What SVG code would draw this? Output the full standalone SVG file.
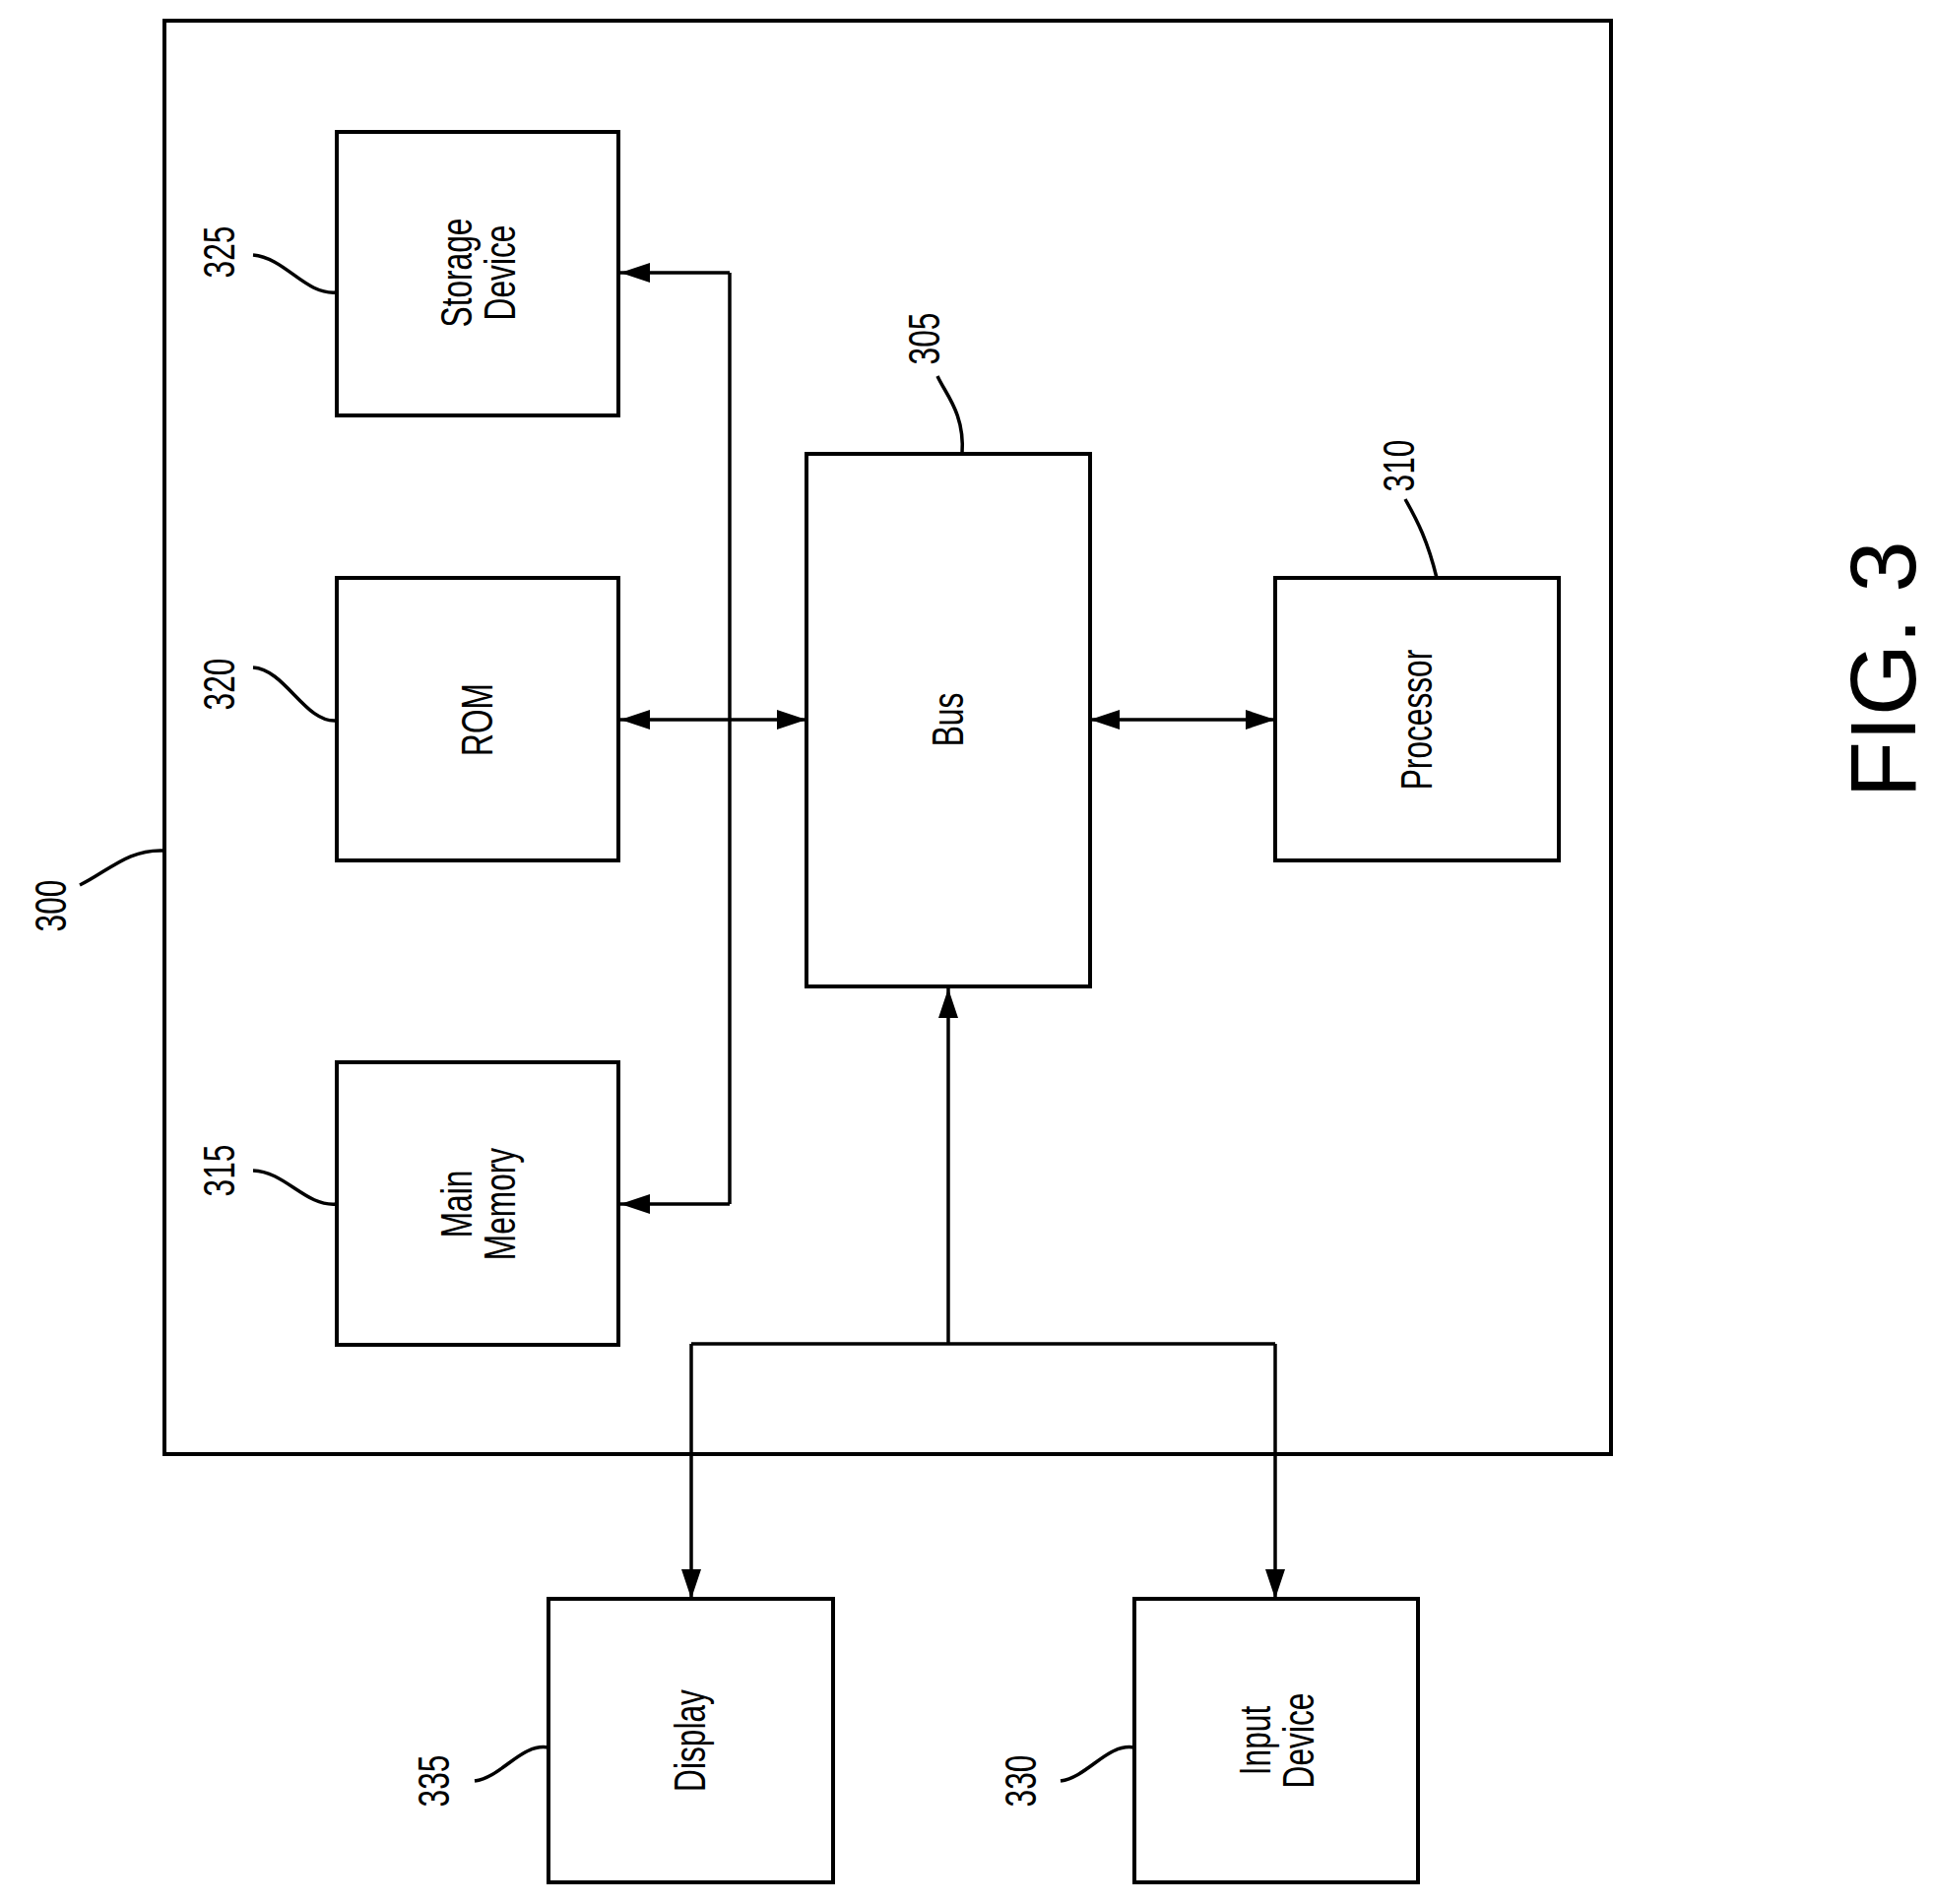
<svg xmlns="http://www.w3.org/2000/svg" width="1963" height="1934" viewBox="0 0 1963 1934">
<style>
.b{fill:none;stroke:#000;stroke-width:4}
.l{fill:none;stroke:#000;stroke-width:3.5}
.t{font-family:"Liberation Sans",Arial,sans-serif;font-size:44px;text-anchor:middle;dominant-baseline:central;fill:#000}
.n{font-family:"Liberation Sans",Arial,sans-serif;font-size:44px;text-anchor:middle;dominant-baseline:central;fill:#000}
</style>
<defs>
<marker id="a" viewBox="0 0 30 20" refX="30" refY="10" markerWidth="30" markerHeight="20" orient="auto-start-reverse" markerUnits="userSpaceOnUse"><path d="M0,0 L30,10 L0,20 z"/></marker>
</defs>
<rect width="1963" height="1934" fill="#fff"/>
<g id="n300"><rect class="b" x="167" y="21" width="1469" height="1456"/>
<text class="n" transform="translate(52,920) rotate(-90) scale(0.72,1)">300</text>
<path class="l" d="M81,899 C110,885 130,862 167,864"/></g>
<g id="n325"><rect class="b" x="342" y="134" width="286" height="288"/>
<text class="t" transform="translate(485,277) rotate(-90) scale(0.72,1)"><tspan x="0" dy="-22">Storage</tspan><tspan x="0" dy="44">Device</tspan></text>
<text class="n" transform="translate(223,256) rotate(-90) scale(0.72,1)">325</text>
<path class="l" d="M257,259 C290,262 310,300 342,297"/></g>
<g id="n320"><rect class="b" x="342" y="587" width="286" height="287"/>
<text class="t" transform="translate(485,731) rotate(-90) scale(0.72,1)">ROM</text>
<text class="n" transform="translate(223,695) rotate(-90) scale(0.72,1)">320</text>
<path class="l" d="M257,678 C290,680 310,735 342,732"/></g>
<g id="n315"><rect class="b" x="342" y="1079" width="286" height="287"/>
<text class="t" transform="translate(485,1223) rotate(-90) scale(0.72,1)"><tspan x="0" dy="-22">Main</tspan><tspan x="0" dy="44">Memory</tspan></text>
<text class="n" transform="translate(223,1189) rotate(-90) scale(0.72,1)">315</text>
<path class="l" d="M257,1189 C290,1190 310,1226 342,1223"/></g>
<g id="n305"><rect class="b" x="819" y="461" width="288" height="541"/>
<text class="t" transform="translate(963,731) rotate(-90) scale(0.72,1)">Bus</text>
<text class="n" transform="translate(939,344) rotate(-90) scale(0.72,1)">305</text>
<path class="l" d="M952,382 C960,400 980,420 977,461"/></g>
<g id="n310"><rect class="b" x="1295" y="587" width="288" height="287"/>
<text class="t" transform="translate(1439,731) rotate(-90) scale(0.72,1)">Processor</text>
<text class="n" transform="translate(1421,473) rotate(-90) scale(0.72,1)">310</text>
<path class="l" d="M1427,507 C1440,530 1450,550 1459,587"/></g>
<g id="n335"><rect class="b" x="557" y="1624" width="289" height="288"/>
<text class="t" transform="translate(701,1768) rotate(-90) scale(0.72,1)">Display</text>
<text class="n" transform="translate(441,1809) rotate(-90) scale(0.72,1)">335</text>
<path class="l" d="M482,1809 C510,1805 530,1770 557,1775"/></g>
<g id="n330"><rect class="b" x="1152" y="1624" width="288" height="288"/>
<text class="t" transform="translate(1296,1768) rotate(-90) scale(0.72,1)"><tspan x="0" dy="-22">Input</tspan><tspan x="0" dy="44">Device</tspan></text>
<text class="n" transform="translate(1037,1809) rotate(-90) scale(0.72,1)">330</text>
<path class="l" d="M1077,1809 C1105,1805 1125,1770 1152,1775"/></g>
<text id="fig" x="0" y="0" font-family="Liberation Sans,Arial,sans-serif" font-size="94" text-anchor="middle" dominant-baseline="central" transform="translate(1912,680) rotate(-90)">FIG. 3</text>
<g id="connectors">
<path class="l" d="M741,277 V1223" />
<line class="l" x1="741" y1="277" x2="630" y2="277" marker-end="url(#a)"/>
<line class="l" x1="741" y1="1223" x2="630" y2="1223" marker-end="url(#a)"/>
<line class="l" x1="630" y1="731" x2="819" y2="731" marker-start="url(#a)" marker-end="url(#a)"/>
<line class="l" x1="1107" y1="731" x2="1295" y2="731" marker-start="url(#a)" marker-end="url(#a)"/>
<line class="l" x1="963" y1="1365" x2="963" y2="1004" marker-end="url(#a)"/>
<path class="l" d="M702,1365 H1295"/>
<line class="l" x1="702" y1="1365" x2="702" y2="1624" marker-end="url(#a)"/>
<line class="l" x1="1295" y1="1365" x2="1295" y2="1624" marker-end="url(#a)"/>
</g>
</svg>
